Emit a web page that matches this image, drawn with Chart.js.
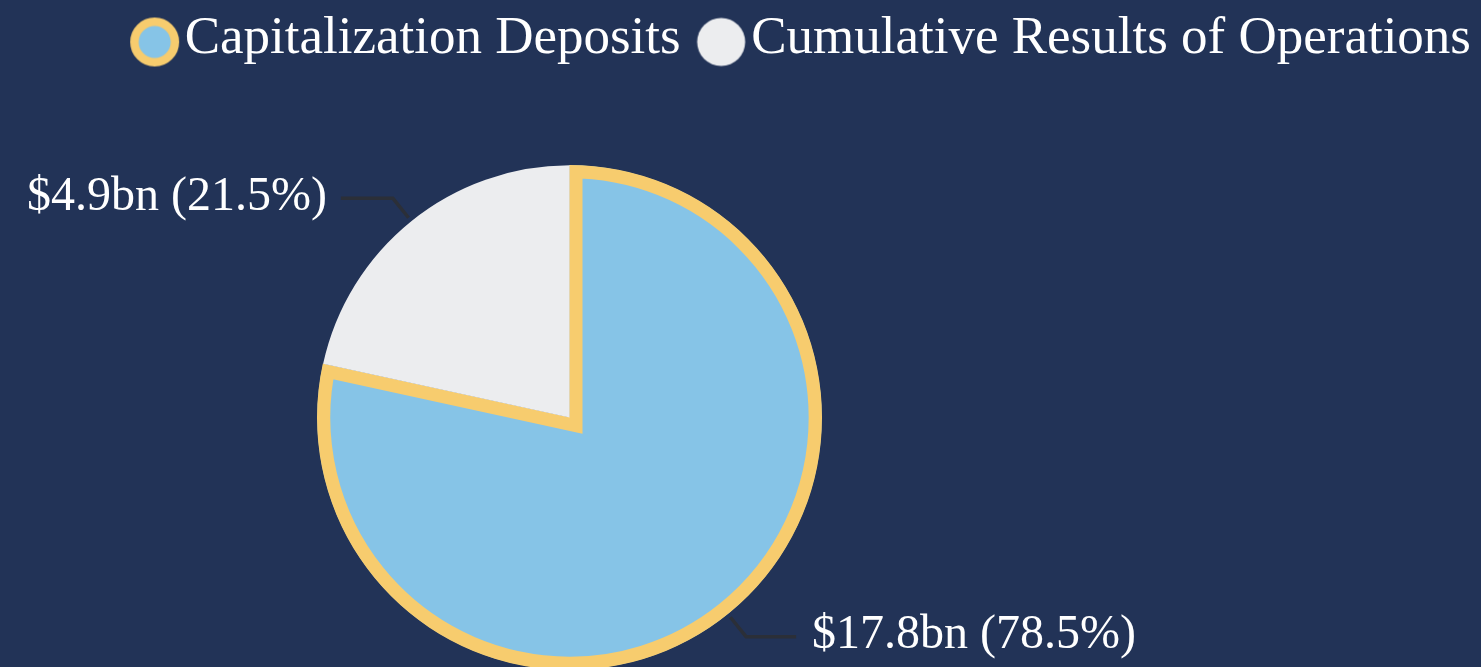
<!DOCTYPE html>
<html>
<head>
<meta charset="utf-8">
<script src="https://cdn.jsdelivr.net/npm/chart.js@4.4.1/dist/chart.umd.min.js"></script>
<style>
    html, body { margin: 0; padding: 0; background: #223357; }
    #pie_chart { width: 1481px; height: 667px; position: relative; }
</style>
</head>
<body>
<div id="pie_chart"><canvas id="pie-chart"></canvas></div>
<script>
const LABELS = ["Capitalization Deposits", "Cumulative Results of Operations"];
const VALUES = [17.8, 4.9];      // $bn
const PERCENTS = [78.5, 21.5];

const BGCOLOR = "#223357";
const FONTCOLOR = "#ffffff";
const COLORSET = ["#86c4e7", "#ecedef"];
const BORDERCOLOR = "#f7cc6e";
const LINECOLOR = "#2b2f38";
const FONT = "'Liberation Serif', 'Times New Roman', serif";

// pie box: chart area squeezed to the left part of the canvas (bottom runs off the canvas a bit)
const PIE_TOP = 165;
const PIE_BOTTOM = 670;
const PIE_RIGHT = 1139;

// legend marker drawn on a small canvas, circle pushed right so it hugs the text
function legendDot(fill, ring) {
    const c = document.createElement("canvas");
    c.width = 80;
    c.height = 60;
    const g = c.getContext("2d");
    g.beginPath();
    g.arc(53.5, 32.5, ring ? 20.25 : 24, 0, Math.PI * 2);
    g.fillStyle = fill;
    g.fill();
    if (ring) {
        g.lineWidth = 8.5;
        g.strokeStyle = ring;
        g.stroke();
    }
    return c;
}
const LEGEND_DOTS = [legendDot(COLORSET[0], BORDERCOLOR), legendDot(COLORSET[1])];

const background = {
    id: "background",
    beforeDraw(chart) {
        const ctx = chart.ctx;
        ctx.save();
        ctx.fillStyle = BGCOLOR;
        ctx.fillRect(0, 0, chart.width, chart.height);
        ctx.restore();
    }
};

const pieBox = {
    id: "pieBox",
    afterLayout(chart) {
        const a = chart.chartArea;
        a.top = PIE_TOP;
        a.bottom = PIE_BOTTOM;
        a.right = PIE_RIGHT;
        a.width = a.right - a.left;
        a.height = a.bottom - a.top;
    }
};

const sliceLabels = {
    id: "sliceLabels",
    afterDraw(chart) {
        const ctx = chart.ctx;
        const meta = chart.getDatasetMeta(0);
        ctx.save();
        ctx.font = "48px " + FONT;
        ctx.textBaseline = "middle";
        meta.data.forEach((arc, i) => {
            const p = arc.getProps(["x", "y", "startAngle", "endAngle", "outerRadius"], true);
            const mid = (p.startAngle + p.endAngle) / 2;
            const cos = Math.cos(mid), sin = Math.sin(mid);
            const x0 = p.x + cos * (p.outerRadius + 4);
            const y0 = p.y + sin * (p.outerRadius + 4);
            const x1 = p.x + cos * (p.outerRadius + 29);
            const y1 = p.y + sin * (p.outerRadius + 29);
            const right = cos >= 0;
            const x2 = x1 + (right ? 50 : -52);
            ctx.beginPath();
            ctx.moveTo(x0, y0);
            ctx.lineTo(x1, y1);
            ctx.lineTo(x2, y1);
            ctx.strokeStyle = LINECOLOR;
            ctx.lineWidth = 3.5;
            ctx.stroke();
            ctx.fillStyle = FONTCOLOR;
            ctx.textAlign = right ? "left" : "right";
            ctx.fillText("$" + VALUES[i] + "bn (" + PERCENTS[i] + "%)", x2 + (right ? 16 : -14), y1 - 1);
        });
        ctx.restore();
    }
};

const baseLabels = (Chart.overrides.pie || Chart.overrides.doughnut).plugins.legend.labels.generateLabels;

const ctx = document.querySelector("#pie-chart").getContext("2d");
const configuration = {
    type: "pie",
    data: {
        labels: LABELS,
        datasets: [{
            data: VALUES,
            backgroundColor: COLORSET,
            borderColor: [BORDERCOLOR, COLORSET[1]],
            borderWidth: [13, 0],
            borderAlign: "inner",
            borderJoinStyle: "miter",
            clip: false
        }]
    },
    options: {
        responsive: true,
        maintainAspectRatio: false,
        animation: false,
        events: [],
        layout: {
            padding: { top: 3, bottom: 1 }
        },
        plugins: {
            legend: {
                position: "top",
                align: "end",
                labels: {
                    color: FONTCOLOR,
                    font: { family: FONT, size: 53 },
                    usePointStyle: true,
                    pointStyleWidth: 34,
                    padding: 10,
                    generateLabels(chart) {
                        const items = baseLabels(chart);
                        items.forEach((it, i) => { it.pointStyle = LEGEND_DOTS[i]; });
                        return items;
                    }
                }
            },
            tooltip: { enabled: false }
        }
    },
    plugins: [background, pieBox, sliceLabels]
};
new Chart(ctx, configuration);
</script>
</body>
</html>
